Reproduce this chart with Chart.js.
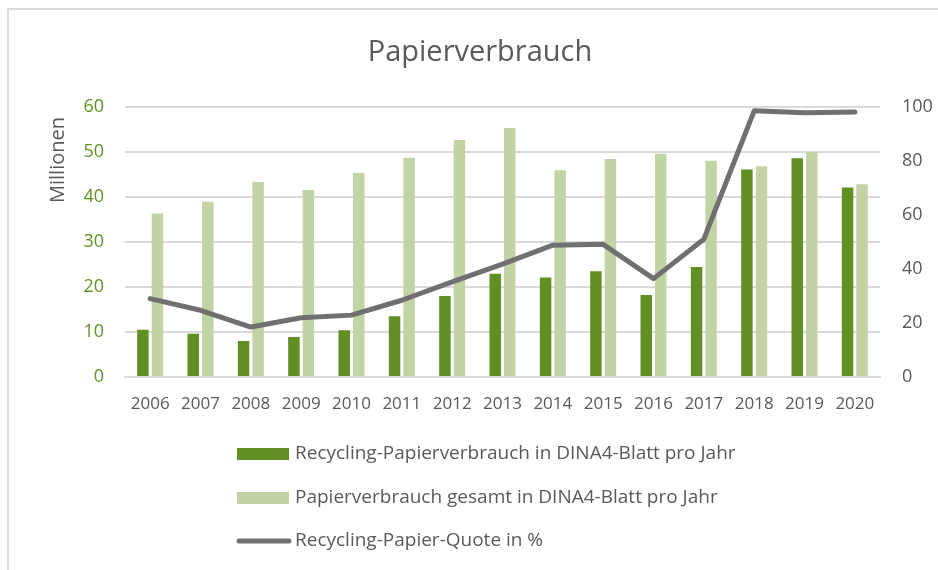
<!DOCTYPE html>
<html><head><meta charset="utf-8">
<script src="https://cdn.jsdelivr.net/npm/chart.js@4/dist/chart.umd.min.js"></script>
<style>
html,body{margin:0;padding:0;background:#fff;}
#wrap{position:relative;width:938px;height:570px;overflow:hidden;background:#fff;}
#frame{position:absolute;left:7px;top:8px;width:1000px;height:700px;border-top:2px solid #dadada;border-left:2px solid #dadada;}
canvas{position:absolute;left:0;top:0;}
</style></head><body>
<div id="wrap"><div id="frame"></div><canvas id="c" width="938" height="570"></canvas></div>
<script>
// ---- data ----
const years = ['2006','2007','2008','2009','2010','2011','2012','2013','2014','2015','2016','2017','2018','2019','2020'];
const recyclingPaper = [10.5, 9.6, 8.0, 8.9, 10.4, 13.5, 18.0, 22.9, 22.1, 23.5, 18.2, 24.4, 46.1, 48.6, 42.1];
const totalPaper     = [36.3, 38.9, 43.3, 41.5, 45.3, 48.7, 52.6, 55.3, 45.9, 48.4, 49.6, 48.0, 46.8, 49.9, 42.8];
const recyclingQuote = [29.0, 24.7, 18.5, 21.9, 22.9, 28.4, 35.2, 41.8, 48.8, 49.1, 36.4, 51.0, 98.5, 97.8, 98.1];
const seriesLabels = [
  'Recycling-Papierverbrauch in DINA4-Blatt pro Jahr',
  'Papierverbrauch gesamt in DINA4-Blatt pro Jahr',
  'Recycling-Papier-Quote in %'
];
const chartTitle = 'Papierverbrauch';
const leftAxisTitle = 'Millionen';

const FAM = '"Open Sans", sans-serif';
const GREY = '#595959';
const DARK = '#628f23';
const LIGHT = '#c2d3a6';
const LINE = '#707070';

const extrasPlugin = {
  id: 'extras',
  afterDraw(chart){
    const ctx = chart.ctx;
    ctx.save();
    ctx.fillStyle = GREY;
    ctx.font = '20px ' + FAM;
    ctx.translate(64, 160);
    ctx.rotate(-Math.PI/2);
    ctx.textAlign = 'center';
    ctx.textBaseline = 'alphabetic';
    ctx.fillText(leftAxisTitle, 0, 0);
    ctx.restore();
    ctx.save();
    const rows = [454, 498, 541];
    chart.data.datasets.forEach((ds, i) => {
      const y = rows[i];
      if (ds.type === 'line') {
        ctx.strokeStyle = ds.borderColor; ctx.lineWidth = 5; ctx.lineCap = 'round';
        ctx.beginPath(); ctx.moveTo(239, y); ctx.lineTo(289, y); ctx.stroke();
      } else {
        ctx.fillStyle = ds.backgroundColor; ctx.fillRect(237, y - 6, 52, 12);
      }
      ctx.fillStyle = GREY;
      ctx.font = '19px ' + FAM;
      ctx.textAlign = 'left'; ctx.textBaseline = 'middle';
      ctx.fillText(ds.label, 295, y);
    });
    ctx.restore();
  }
};

new Chart(document.getElementById('c'), {
  data: {
    labels: years,
    datasets: [
      { type: 'bar', label: seriesLabels[0], data: recyclingPaper, backgroundColor: DARK, yAxisID: 'y', order: 2,
        categoryPercentage: 0.577, barPercentage: 0.79 },
      { type: 'bar', label: seriesLabels[1], data: totalPaper, backgroundColor: LIGHT, yAxisID: 'y', order: 2,
        categoryPercentage: 0.577, barPercentage: 0.79 },
      { type: 'line', label: seriesLabels[2], data: recyclingQuote, borderColor: LINE, backgroundColor: LINE,
        borderWidth: 5, pointRadius: 0, tension: 0, yAxisID: 'y1', order: 1,
        borderCapStyle: 'round', borderJoinStyle: 'round' }
    ]
  },
  options: {
    responsive: false, animation: false, devicePixelRatio: 1,
    layout: { padding: { left: 22, right: 0, top: 0, bottom: 0 } },
    plugins: {
      legend: { display: false },
      tooltip: { enabled: false },
      title: { display: true, text: chartTitle, color: GREY,
        font: { family: FAM, size: 29, weight: 'normal', lineHeight: 1.2 },
        padding: { top: 35, bottom: 37 } }
    },
    scales: {
      x: {
        grid: { display: false, drawTicks: false },
        border: { display: true, color: '#d9d9d9', width: 2 },
        ticks: { color: GREY, font: { family: FAM, size: 17 }, padding: 17, maxRotation: 0, autoSkip: false },
        afterFit(s){ s.height = 193; }
      },
      y: {
        position: 'left', min: 0, max: 60,
        grid: { color: '#d9d9d9', lineWidth: 2, drawTicks: false },
        border: { display: false },
        ticks: { stepSize: 10, color: '#5e9424', font: { family: FAM, size: 18 }, padding: 21 },
        afterFit(s){ s.width = 103; }
      },
      y1: {
        position: 'right', min: 0, max: 100,
        grid: { display: false, drawTicks: false },
        border: { display: false },
        ticks: { stepSize: 20, color: GREY, font: { family: FAM, size: 18 }, padding: 22 },
        afterFit(s){ s.width = 58; }
      }
    }
  },
  plugins: [extrasPlugin]
});
</script>
</body></html>
